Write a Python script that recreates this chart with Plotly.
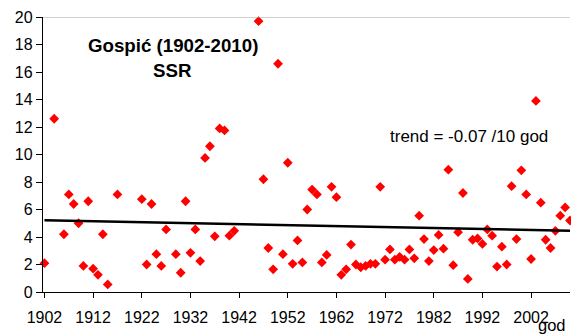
import plotly.graph_objects as go

# Annual series for Gospić, 1902-2010 (years with data only)
years = [1902, 1904, 1906, 1907, 1908, 1909, 1910, 1911, 1912, 1913, 1914, 1915, 1917,
         1922, 1923, 1924, 1925, 1926, 1927, 1929, 1930, 1931, 1932, 1933, 1934, 1935,
         1936, 1937, 1938, 1939, 1940, 1941, 1946, 1947, 1948, 1949, 1950, 1951, 1952,
         1953, 1954, 1955, 1956, 1957, 1958, 1959, 1960, 1961, 1962, 1963, 1964, 1965,
         1966, 1967, 1968, 1969, 1970, 1971, 1972, 1973, 1974, 1975, 1976, 1977, 1978,
         1979, 1980, 1981, 1982, 1983, 1984, 1985, 1986, 1987, 1988, 1989, 1990, 1991,
         1992, 1993, 1994, 1995, 1996, 1997, 1998, 1999, 2000, 2001, 2002, 2003, 2004,
         2005, 2006, 2007, 2008, 2009, 2010]
ssr = [2.1, 12.6, 4.2, 7.1, 6.4, 5.0, 1.9, 6.6, 1.7, 1.25, 4.2, 0.55, 7.1,
       6.75, 2.0, 6.4, 2.75, 1.9, 4.55, 2.75, 1.4, 6.6, 2.85, 4.55, 2.25, 9.75,
       10.6, 4.05, 11.9, 11.75, 4.1, 4.45, 19.7, 8.2, 3.2, 1.65, 16.6, 2.75, 9.4,
       2.05, 3.75, 2.15, 6.0, 7.45, 7.1, 2.15, 2.7, 7.65, 6.9, 1.25, 1.65, 3.45,
       2.0, 1.8, 1.9, 2.05, 2.05, 7.65, 2.35, 3.1, 2.35, 2.55, 2.35, 3.1, 2.45,
       5.55, 3.85, 2.25, 3.05, 4.15, 3.15, 8.9, 1.95, 4.35, 7.2, 0.95, 3.8, 3.9,
       3.5, 4.55, 4.1, 1.85, 3.3, 2.0, 7.7, 3.85, 8.85, 7.1, 2.4, 13.9, 6.5,
       3.8, 3.2, 4.45, 5.55, 6.15, 5.2]

# Linear trend: value at the first year and slope per year (-0.07 per 10 years)
trend_first_year = 1902
trend_last_year = 2010
trend_start_value = 5.21
trend_slope = -0.007

x_ticks = [1902, 1912, 1922, 1932, 1942, 1952, 1962, 1972, 1982, 1992, 2002]
y_ticks = [0, 2, 4, 6, 8, 10, 12, 14, 16, 18, 20]

FONT = "Arial, Liberation Sans, sans-serif"

trend_x = [trend_first_year, trend_last_year]
trend_y = [trend_start_value + trend_slope * (x - trend_first_year) for x in trend_x]

fig = go.Figure()
fig.add_trace(go.Scatter(
    x=years, y=ssr, mode="markers",
    marker=dict(symbol="diamond", size=7.5, color="#ff0000", line=dict(width=0)),
    cliponaxis=False, showlegend=False,
))
fig.add_trace(go.Scatter(
    x=trend_x, y=trend_y, mode="lines",
    line=dict(color="black", width=2.5),
    showlegend=False,
))

# Thin grey line along the top of the plot area
fig.add_shape(type="line", xref="paper", yref="y", x0=0, x1=1, y0=20, y1=20,
              line=dict(color="#a6a6a6", width=1))

fig.add_annotation(text="<b>Gospić (1902-2010)</b>", xref="paper", yref="paper",
                   x=0.247, y=0.895, xanchor="center", yanchor="middle", showarrow=False,
                   font=dict(family=FONT, size=18.7, color="black"))
fig.add_annotation(text="<b>SSR</b>", xref="paper", yref="paper",
                   x=0.246, y=0.806, xanchor="center", yanchor="middle", showarrow=False,
                   font=dict(family=FONT, size=18.7, color="black"))
fig.add_annotation(text="trend = -0.07 /10 god", xref="paper", yref="paper",
                   x=0.809, y=0.566, xanchor="center", yanchor="middle", showarrow=False,
                   font=dict(family=FONT, size=17, color="black"))
fig.add_annotation(text="god", xref="paper", yref="paper",
                   x=0.966, y=-0.12, xanchor="center", yanchor="middle", showarrow=False,
                   font=dict(family=FONT, size=16.5, color="black"))

fig.update_xaxes(
    range=[1901.7, 2010.0], tickmode="array", tickvals=x_ticks,
    ticktext=[str(t) for t in x_ticks],
    showgrid=False, zeroline=False,
    showline=True, linecolor="black", linewidth=1.3,
    ticks="outside", ticklen=5, tickcolor="black", tickwidth=1.3,
    ticklabelstandoff=6,
    tickfont=dict(family=FONT, size=16, color="black"),
)
fig.update_yaxes(
    range=[0, 20], tickmode="array", tickvals=y_ticks,
    showgrid=False, zeroline=False,
    showline=True, linecolor="black", linewidth=1.3,
    ticks="outside", ticklen=6, tickcolor="black", tickwidth=1.3,
    tickfont=dict(family=FONT, size=16, color="black"),
)

fig.update_layout(
    width=571, height=334,
    margin=dict(l=43, r=1, t=17, b=42, pad=0),
    paper_bgcolor="white", plot_bgcolor="white",
    font=dict(family=FONT),
)

fig.write_html("out.html")
